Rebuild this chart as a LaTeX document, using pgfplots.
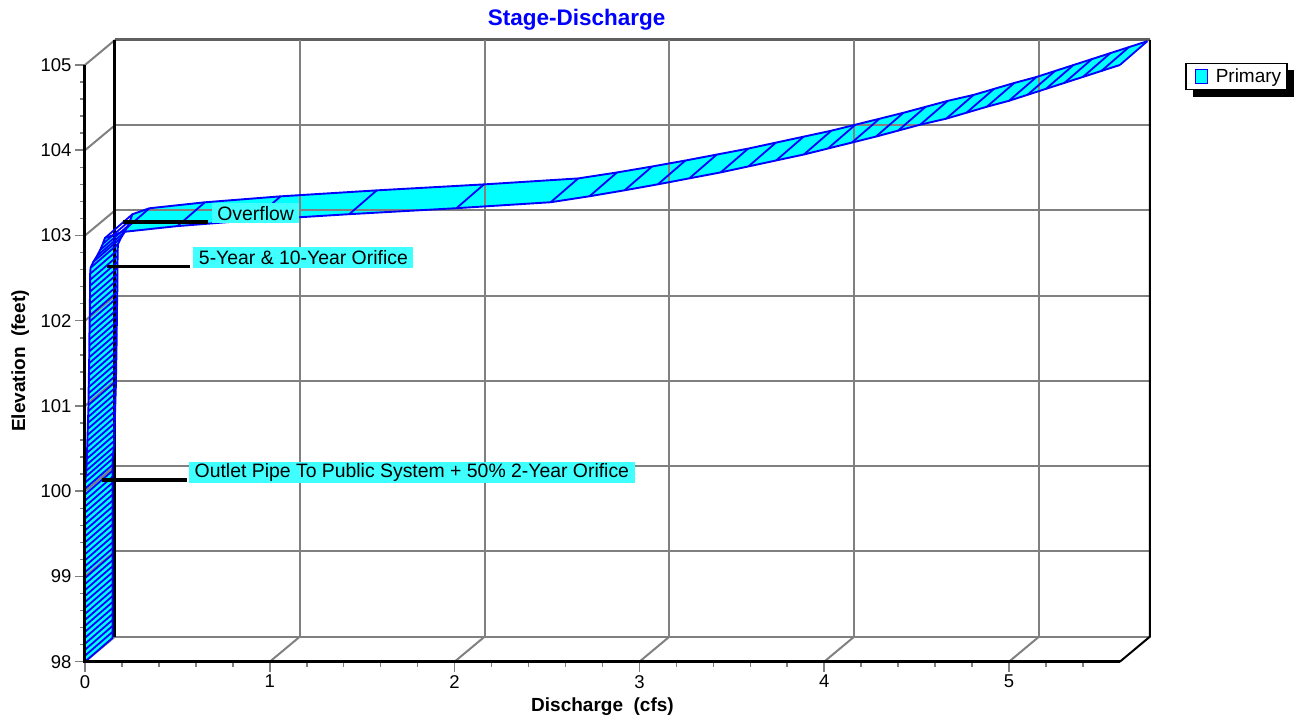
\documentclass[border=0pt]{standalone}
\usepackage{fontspec}
\setmainfont{Liberation Sans}
\usepackage{pgfplots}
\pgfplotsset{compat=1.18}
\usepackage{pgfplotstable}
\usepgfplotslibrary{fillbetween}
\definecolor{ribcyan}{RGB}{0,255,255}
\definecolor{ribblue}{RGB}{0,0,255}
\definecolor{labcyan}{RGB}{64,255,255}
\definecolor{gridgray}{RGB}{128,128,128}
\definecolor{topgray}{RGB}{96,96,96}

\pgfplotstableread{
h Q
98.00 0
98.07 0
98.14 0
98.21 0
98.28 0
98.35 0
98.42 0
98.49 0
98.56 0
98.63 0
98.70 0
98.77 0
98.84 0
98.91 0
98.98 0
99.05 0
99.12 0
99.19 0
99.26 0
99.33 0
99.40 0
99.47 0
99.54 0
99.61 0
99.68 0
99.75 0
99.82 0
99.89 0
99.96 0
100.03 0
100.10 0
100.17 0.004
100.24 0.007
100.31 0.009
100.38 0.010
100.45 0.011
100.52 0.012
100.59 0.013
100.66 0.014
100.73 0.015
100.80 0.016
100.87 0.017
100.94 0.018
101.01 0.019
101.08 0.019
101.15 0.020
101.22 0.020
101.29 0.021
101.36 0.021
101.43 0.022
101.50 0.022
101.57 0.023
101.64 0.023
101.71 0.024
101.78 0.024
101.85 0.024
101.92 0.025
101.99 0.025
102.06 0.026
102.13 0.026
102.20 0.026
102.27 0.027
102.34 0.027
102.41 0.027
102.48 0.028
102.55 0.028
102.62 0.030
102.69 0.045
102.76 0.065
102.83 0.082
102.90 0.096
102.97 0.108
103.04 0.20
103.11 0.50
103.18 0.91
103.25 1.43
103.32 2.01
103.39 2.52
103.46 2.73
103.53 2.92
103.60 3.10
103.67 3.27
103.74 3.44
103.81 3.59
103.88 3.74
103.95 3.89
104.02 4.02
104.09 4.15
104.16 4.28
104.23 4.40
104.30 4.52
104.37 4.66
104.44 4.77
104.51 4.88
104.58 5.00
104.65 5.10
104.72 5.20
104.79 5.30
104.86 5.40
104.93 5.50
105.00 5.60
}\ribbon

\begin{document}
\begin{tikzpicture}
\begin{axis}[
  at={(0pt,0pt)}, anchor=south west,
  scale only axis, width=1064.9pt, height=621.7pt,
  xmin=0, xmax=5.7623, ymin=98, ymax=105.2933,
  clip=false,
  axis line style={draw=none},
  tick pos=left, tick align=outside,
  xtick={0,1,2,3,4,5}, ytick={98,99,100,101,102,103,104,105},
  minor xtick={0.2,0.4,0.6,0.8,1.2,1.4,1.6,1.8,2.2,2.4,2.6,2.8,3.2,3.4,3.6,3.8,4.2,4.4,4.6,4.8,5.2,5.4},
  minor ytick={98.2,98.4,98.6,98.8,99.2,99.4,99.6,99.8,100.2,100.4,100.6,100.8,101.2,101.4,101.6,101.8,102.2,102.4,102.6,102.8,103.2,103.4,103.6,103.8,104.2,104.4,104.6,104.8},
  major tick length=10pt, minor tick length=5pt,
  tick style={gridgray, line width=1.5pt},
  tick label style={font=\fontsize{18.5}{20}\selectfont},
  /pgf/number format/assume math mode=true,
  title={Stage-Discharge},
  title style={at={(0.4617,1)}, anchor=base, yshift=8pt, font=\bfseries\fontsize{22.5}{26}\selectfont, text=ribblue},
  xlabel={Discharge\ \ (cfs)},
  xlabel style={at={(axis description cs:0.486,0)}, anchor=base, yshift=-50pt, font=\bfseries\fontsize{19}{22}\selectfont},
  ylabel={Elevation\ \ (feet)},
  ylabel style={at={(axis description cs:-0.05634,0.4837)}, anchor=base, font=\bfseries\fontsize{19}{22}\selectfont},
  legend style={at={(1.0330,0.9635)}, anchor=north west, draw=black, line width=1.5pt, fill=white,
    font=\fontsize{19}{22}\selectfont, inner xsep=4pt, inner ysep=3.5pt},
  legend cell align=left,
]
\addlegendimage{legend image code/.code={\draw[fill=ribcyan, draw=ribblue, line width=1.3pt] (6pt,-7pt) rectangle (18pt,7pt); \path[draw=none] (0pt,-7pt) (24pt,7pt);}}
\addlegendentry{Primary}

% legend shadow
\fill[black] (axis description cs:1.0405,0.9083) rectangle (axis description cs:1.1353,0.9518);

% back plane grid
\draw[gridgray, line width=2pt] (axis cs:0.1623,98.2933) -- (axis cs:5.7623,98.2933);
\draw[gridgray, line width=2pt] (axis cs:0.1623,99.2933) -- (axis cs:5.7623,99.2933);
\draw[gridgray, line width=2pt] (axis cs:0.1623,100.2933) -- (axis cs:5.7623,100.2933);
\draw[gridgray, line width=2pt] (axis cs:0.1623,101.2933) -- (axis cs:5.7623,101.2933);
\draw[gridgray, line width=2pt] (axis cs:0.1623,102.2933) -- (axis cs:5.7623,102.2933);
\draw[gridgray, line width=2pt] (axis cs:0.1623,103.2933) -- (axis cs:5.7623,103.2933);
\draw[gridgray, line width=2pt] (axis cs:0.1623,104.2933) -- (axis cs:5.7623,104.2933);
\draw[topgray, line width=3pt] (axis cs:0.1623,105.2933) -- (axis cs:5.7623,105.2933);
\draw[gridgray, line width=2pt] (axis cs:0,98) -- (axis cs:0.1623,98.2933);
\draw[gridgray, line width=2pt] (axis cs:0,99) -- (axis cs:0.1623,99.2933);
\draw[gridgray, line width=2pt] (axis cs:0,100) -- (axis cs:0.1623,100.2933);
\draw[gridgray, line width=2pt] (axis cs:0,101) -- (axis cs:0.1623,101.2933);
\draw[gridgray, line width=2pt] (axis cs:0,102) -- (axis cs:0.1623,102.2933);
\draw[gridgray, line width=2pt] (axis cs:0,103) -- (axis cs:0.1623,103.2933);
\draw[gridgray, line width=2pt] (axis cs:0,104) -- (axis cs:0.1623,104.2933);
\draw[gridgray, line width=2pt] (axis cs:0,105) -- (axis cs:0.1623,105.2933);
\draw[gridgray, line width=2pt] (axis cs:1.1623,98.2933) -- (axis cs:1.1623,105.2933);
\draw[gridgray, line width=2pt] (axis cs:2.1623,98.2933) -- (axis cs:2.1623,105.2933);
\draw[gridgray, line width=2pt] (axis cs:3.1623,98.2933) -- (axis cs:3.1623,105.2933);
\draw[gridgray, line width=2pt] (axis cs:4.1623,98.2933) -- (axis cs:4.1623,105.2933);
\draw[gridgray, line width=2pt] (axis cs:5.1623,98.2933) -- (axis cs:5.1623,105.2933);
\draw[gridgray, line width=2pt] (axis cs:1,98) -- (axis cs:1.1623,98.2933);
\draw[gridgray, line width=2pt] (axis cs:2,98) -- (axis cs:2.1623,98.2933);
\draw[gridgray, line width=2pt] (axis cs:3,98) -- (axis cs:3.1623,98.2933);
\draw[gridgray, line width=2pt] (axis cs:4,98) -- (axis cs:4.1623,98.2933);
\draw[gridgray, line width=2pt] (axis cs:5,98) -- (axis cs:5.1623,98.2933);
\draw[black, line width=3pt] (axis cs:0.1623,98.2933) -- (axis cs:0.1623,105.2933);
\draw[black, line width=2pt] (axis cs:5.6,98) -- (axis cs:5.7623,98.2933) -- (axis cs:5.7623,105.2933);

% ribbon
\addplot[name path=front, draw=none, forget plot] table[x=Q, y=h] {\ribbon};
\addplot[name path=back, draw=none, forget plot] table[x expr=\thisrow{Q}+0.1488, y expr=\thisrow{h}+0.2792] {\ribbon};
\addplot[fill=ribcyan, draw=none, forget plot] fill between[of=front and back];
\addplot[ribblue, line width=1.8pt, forget plot, quiver={u=0.1488, v=0.2792}] table[x=Q, y=h] {\ribbon};
\addplot[ribblue, line width=1.9pt, forget plot] table[x=Q, y=h] {\ribbon};
\addplot[ribblue, line width=1.9pt, forget plot] table[x expr=\thisrow{Q}+0.1488, y expr=\thisrow{h}+0.2792] {\ribbon};

% front axes
\draw[black, line width=3pt] (axis cs:0,105) -- (axis cs:0,98) -- (axis cs:5.6,98);

% annotations
\draw[black, line width=3.3pt] (axis cs:0.2056,103.158) -- (axis cs:0.6656,103.158);
\node[fill=labcyan, anchor=west, inner xsep=5.5pt, inner ysep=0pt, minimum height=20pt, font=\fontsize{19.4}{22}\selectfont] at (axis cs:0.6856,103.2605) {Overflow};
\draw[black, line width=3.3pt] (axis cs:0.1174,102.634) -- (axis cs:0.568,102.634);
\node[fill=labcyan, anchor=west, inner xsep=5.5pt, inner ysep=0pt, minimum height=21.6pt, font=\fontsize{19.4}{22}\selectfont] at (axis cs:0.586,102.742) {5-Year \& 10-Year Orifice};
\draw[black, line width=3.3pt] (axis cs:0.0904,100.1316) -- (axis cs:0.5503,100.1316);
\node[fill=labcyan, anchor=west, inner xsep=5.5pt, inner ysep=0pt, minimum height=21.6pt, font=\fontsize{19.4}{22}\selectfont] at (axis cs:0.5628,100.2196) {Outlet Pipe To Public System + 50\% 2-Year Orifice};
\end{axis}
\pgfresetboundingbox
\path[use as bounding box] (-85pt,-57.3pt) rectangle (1209pt,661.7pt);
\end{tikzpicture}
\end{document}
